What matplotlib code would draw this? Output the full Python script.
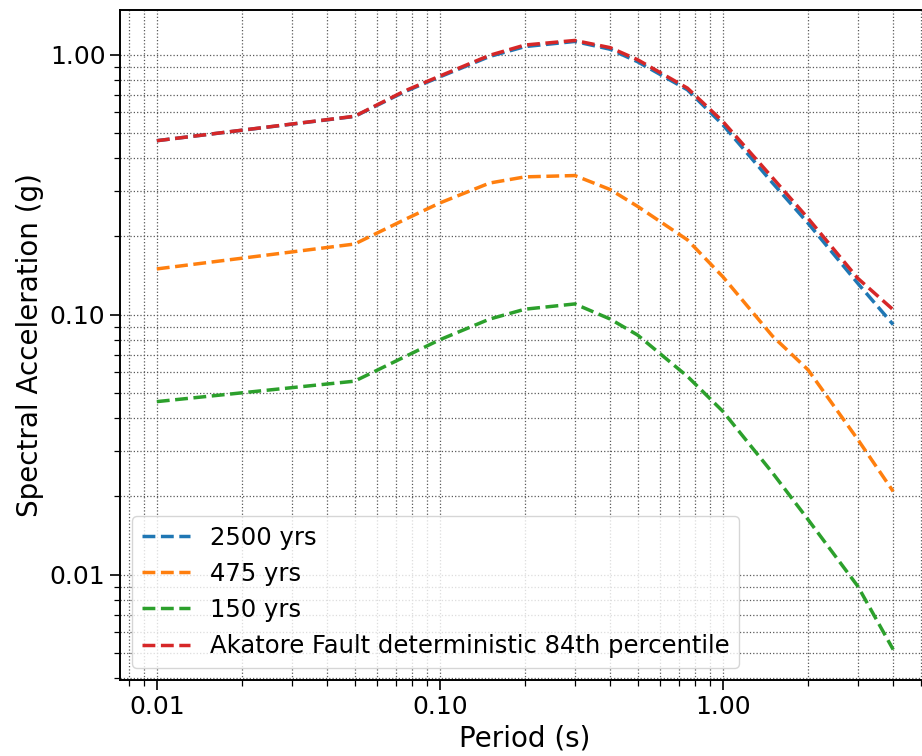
import matplotlib
matplotlib.use('Agg')
import matplotlib.pyplot as plt
from matplotlib.ticker import FormatStrFormatter, NullFormatter


# periods (s)
periods = [0.01, 0.05, 0.075, 0.1, 0.15, 0.2, 0.3, 0.4, 0.5, 0.75, 1.0, 1.5, 2.0, 3.0, 4.0]

# spectral accelerations (g)
sa_2500 = [0.467, 0.579, 0.72, 0.822, 0.985, 1.075, 1.125, 1.05, 0.94, 0.733, 0.538, 0.321, 0.225, 0.132, 0.0916]
sa_475 = [0.150, 0.187, 0.232, 0.269, 0.321, 0.339, 0.343, 0.303, 0.261, 0.194, 0.140, 0.0826, 0.0614, 0.0331, 0.0209]
sa_150 = [0.0463, 0.0555, 0.0688, 0.0801, 0.0962, 0.105, 0.110, 0.0962, 0.0835, 0.0579, 0.0425, 0.0246, 0.0163, 0.00902, 0.00515]
sa_akatore = [0.467, 0.580, 0.725, 0.828, 0.995, 1.09, 1.135, 1.065, 0.957, 0.744, 0.554, 0.336, 0.235, 0.138, 0.1045]

labels = ['2500 yrs', '475 yrs', '150 yrs', 'Akatore Fault deterministic 84th percentile']

fig = plt.figure(figsize=(9.22, 7.56), dpi=100)
ax = fig.add_axes([120 / 922, 76 / 756, 810 / 922, 670 / 756])

for vals, lab in zip([sa_2500, sa_475, sa_150, sa_akatore], labels):
    ax.plot(periods, vals, linestyle='--', linewidth=2.5, label=lab)

ax.set_xscale('log')
ax.set_yscale('log')

#both major and minor grid lines, dotted
ax.grid(which='both', linestyle=':', color='0.35', linewidth=0.9)

ax.xaxis.set_major_formatter(FormatStrFormatter('%.2f'))
ax.yaxis.set_major_formatter(FormatStrFormatter('%.2f'))
ax.xaxis.set_minor_formatter(NullFormatter())
ax.yaxis.set_minor_formatter(NullFormatter())
ax.tick_params(which='major', labelsize=18, length=7, width=1.2)
ax.tick_params(which='minor', length=4, width=0.9)

for sp in ax.spines.values():
    sp.set_linewidth(1.4)

ax.set_xlabel('Period (s)', fontsize=20)
ax.set_ylabel('Spectral Acceleration (g)', fontsize=20)

ax.legend(loc='lower left', fontsize=17.5)

fig.savefig('out.png', dpi=100)
